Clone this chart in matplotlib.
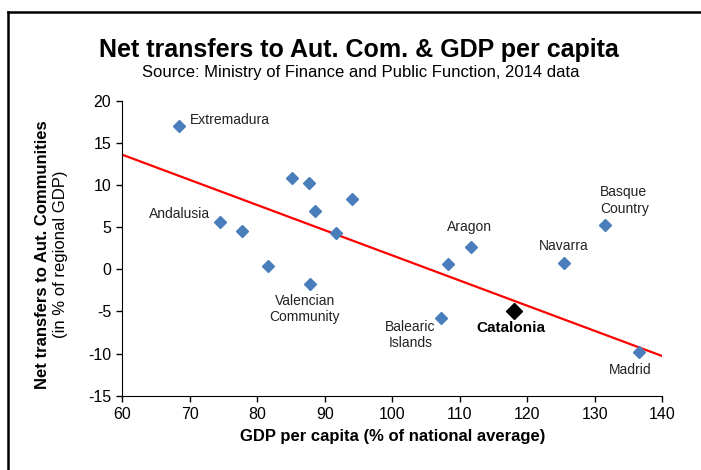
import numpy as np
import matplotlib
matplotlib.use("Agg")
import matplotlib.pyplot as plt
from matplotlib.lines import Line2D

plt.rcParams["font.family"] = ["Liberation Sans", "DejaVu Sans"]
plt.rcParams["axes.unicode_minus"] = False

# GDP per capita (% of national average) and net transfers (% of regional GDP)
regions = ["Extremadura", "Andalusia", "R3", "R4", "R5", "R6", "R7", "R8", "R9",
           "Valencian\nCommunity", "R11", "Aragon", "Navarra", "Basque\nCountry",
           "Balearic\nIslands", "Catalonia", "Madrid"]
gdp = [68.4, 74.4, 77.7, 81.6, 85.2, 87.7, 88.6, 91.6, 94.1,
       87.8, 108.2, 111.6, 125.4, 131.5, 107.2, 118.0, 136.5]
transfers = [17.0, 5.6, 4.6, 0.4, 10.8, 10.2, 6.9, 4.3, 8.3,
             -1.7, 0.6, 2.6, 0.7, 5.3, -5.8, -5.0, -9.8]
# foral regime regions left out of the trend line
foral = ["Navarra", "Basque\nCountry"]

# label positions (data units) and alignment
labels = {
    "Extremadura": (70.0, 17.7, "left"),
    "Andalusia": (73.0, 6.6, "right"),
    "Valencian\nCommunity": (87.0, -4.7, "center"),
    "Aragon": (111.5, 5.0, "center"),
    "Navarra": (125.4, 2.8, "center"),
    "Basque\nCountry": (130.8, 8.2, "left"),
    "Balearic\nIslands": (102.7, -7.8, "center"),
    "Madrid": (135.2, -11.9, "center"),
}

fig = plt.figure(figsize=(7.01, 4.70), dpi=100)
ax = fig.add_axes([0.1745, 0.1581, 0.7703, 0.6276])

gdp = np.array(gdp)
transfers = np.array(transfers)
is_cat = np.array([r == "Catalonia" for r in regions])
in_fit = np.array([r not in foral for r in regions])

slope, intercept = np.polyfit(gdp[in_fit], transfers[in_fit], 1)
xs = np.array([60, 140])
ax.plot(xs, slope * xs + intercept, color="#FF0000", lw=1.6, zorder=2)

ax.plot(gdp[~is_cat], transfers[~is_cat], "D", color="#4A7EBB", ms=6.5,
        mec="#4A7EBB", zorder=3)
ax.plot(gdp[is_cat], transfers[is_cat], "D", color="black", ms=8.5, zorder=3)

for name, (lx, ly, ha) in labels.items():
    ax.text(lx, ly, name, fontsize=10, ha=ha, va="center", color="#222222",
            multialignment=ha, linespacing=1.25)
ax.text(117.5, -7.0, "Catalonia", fontsize=11, fontweight="bold", ha="center",
        va="center")

ax.set_xlim(60, 140)
ax.set_ylim(-15, 20)
ax.set_xticks(range(60, 141, 10))
ax.set_yticks(range(-15, 21, 5))
ax.tick_params(labelsize=11.5, length=4, width=1, direction="out", pad=4)
for s in ["top", "right"]:
    ax.spines[s].set_visible(False)

ax.set_xlabel("GDP per capita (% of national average)", fontsize=12,
              fontweight="bold", labelpad=5)
fig.text(0.060, 0.458, "Net transfers to Aut. Communities", rotation=90,
         fontsize=12, fontweight="bold", ha="center", va="center")
fig.text(0.087, 0.458, "(in % of regional GDP)", rotation=90,
         fontsize=12, ha="center", va="center")

fig.text(0.512, 0.894, "Net transfers to Aut. Com. & GDP per capita",
         fontsize=18, fontweight="bold", ha="center", va="center")
fig.text(0.514, 0.845, "Source: Ministry of Finance and Public Function, 2014 data",
         fontsize=12, ha="center", va="center")

# outer frame (top and left edges)
fig.add_artist(Line2D([8 / 701, 1], [1 - 12 / 470] * 2, color="black", lw=1.8,
                      transform=fig.transFigure))
fig.add_artist(Line2D([8 / 701] * 2, [0, 1 - 12 / 470], color="black", lw=1.8,
                      transform=fig.transFigure))

fig.savefig("out.png", dpi=100)
